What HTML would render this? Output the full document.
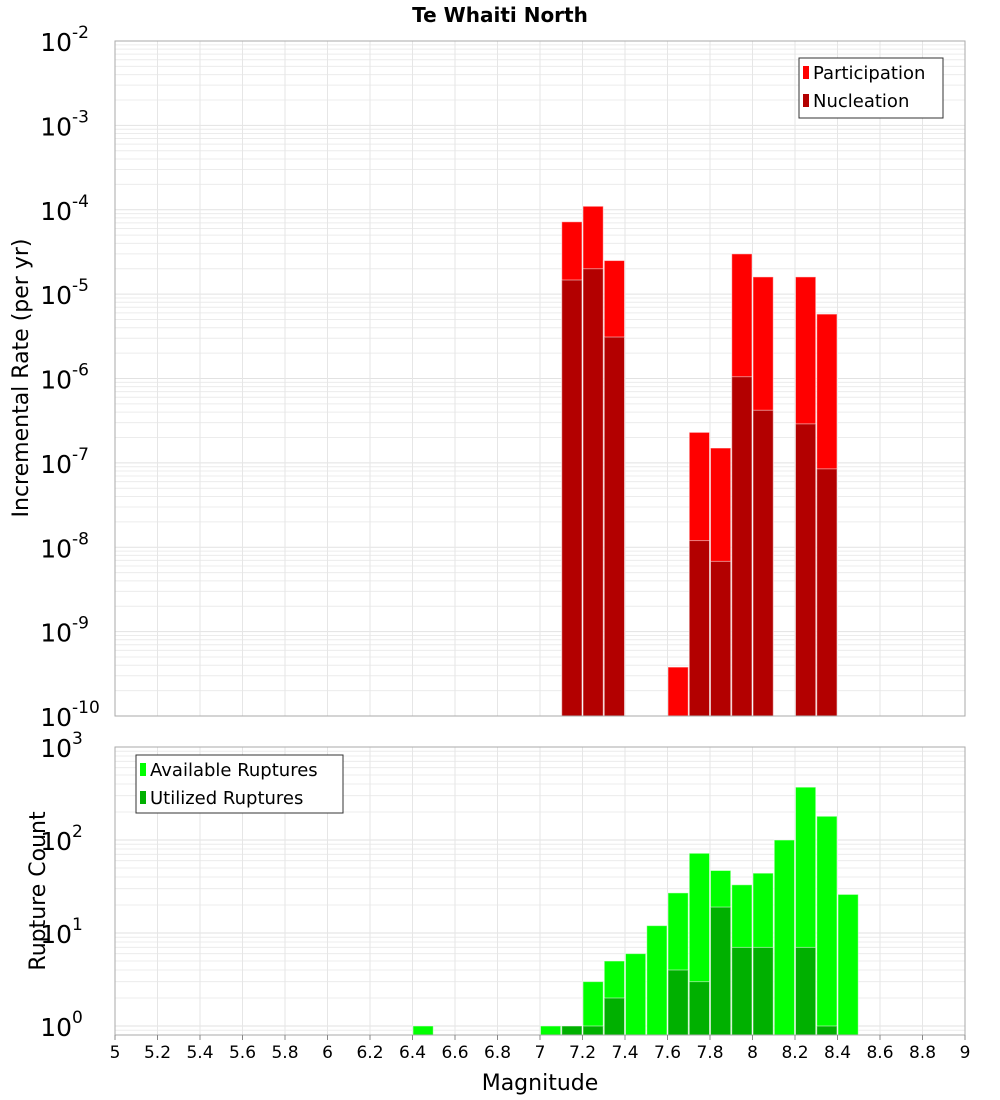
<!DOCTYPE html>
<html><head><meta charset="utf-8"><style>
body{margin:0;background:#fff;}
svg{display:block;font-family:"DejaVu Sans","Liberation Sans",sans-serif;}
</style></head><body>
<svg id="chart" width="1000" height="1100" viewBox="0 0 1000 1100">
<text x="500" y="22" text-anchor="middle" font-size="20" font-weight="bold">Te Whaiti North</text>
<g id="topPlot"></g>
<g id="botPlot"></g>
<text x="28" y="378" text-anchor="middle" font-size="22" transform="rotate(-90 28 378)">Incremental Rate (per yr)</text>
<text x="45" y="891" text-anchor="middle" font-size="22" transform="rotate(-90 45 891)">Rupture Count</text>
<text x="540" y="1090" text-anchor="middle" font-size="22">Magnitude</text>
<g>
<rect x="799" y="58" width="144" height="60" fill="#fff" stroke="#333"/>
<rect x="803" y="66" width="6" height="13" fill="#ff0000"/>
<text x="813" y="79" font-size="18">Participation</text>
<rect x="803" y="94" width="6" height="13" fill="#b30000"/>
<text x="813" y="107" font-size="18">Nucleation</text>
</g>
<g>
<rect x="136" y="755" width="207" height="58" fill="#fff" stroke="#333"/>
<rect x="140" y="763" width="6" height="13" fill="#00ff00"/>
<text x="150" y="776" font-size="18">Available Ruptures</text>
<rect x="140" y="791" width="6" height="13" fill="#00b000"/>
<text x="150" y="804" font-size="18">Utilized Ruptures</text>
</g>
</svg>
<script>
const binStarts=[6.4,7.0,7.1,7.2,7.3,7.4,7.5,7.6,7.7,7.8,7.9,8.0,8.1,8.2,8.3,8.4];
const available=[1,1,1,3,5,6,12,27,72,47,33,44,100,370,180,26];
const utilized=[0,0,1,1,2,0,0,4,3,19,7,7,0,7,1,0];
const rateBins=[7.1,7.2,7.3,7.6,7.7,7.8,7.9,8.0,8.2,8.3];
const participation=[7.2e-5,1.1e-4,2.5e-5,3.8e-10,2.3e-7,1.5e-7,3.0e-5,1.6e-5,1.6e-5,5.8e-6];
const nucleation=[1.47e-5,2.0e-5,3.1e-6,0,1.2e-8,6.8e-9,1.05e-6,4.2e-7,2.9e-7,8.5e-8];
const xTicks=[5,5.2,5.4,5.6,5.8,6,6.2,6.4,6.6,6.8,7,7.2,7.4,7.6,7.8,8,8.2,8.4,8.6,8.8,9];

const NS='http://www.w3.org/2000/svg';
const X0=115,X1=965;
const xs=m=>X0+(m-5)/4*(X1-X0);
function el(p,t,a){const e=document.createElementNS(NS,t);for(const k in a)e.setAttribute(k,a[k]);p.appendChild(e);return e;}
function panel(g,y0,y1,lmin,lmax,decPx){
  const ys=v=>y0+(lmax-Math.log10(v))*decPx;
  el(g,'rect',{x:X0,y:y0,width:X1-X0,height:y1-y0,fill:'#fff'});
  for(let d=Math.floor(lmin);d<lmax;d++)for(let k=1;k<10;k++){const y=ys(k*Math.pow(10,d));if(y<y0||y>y1)continue;
    el(g,'line',{x1:X0,x2:X1,y1:y,y2:y,stroke:k==1?'#e2e2e2':'#ececec','stroke-width':1});}
  xTicks.forEach(t=>{el(g,'line',{x1:xs(t),x2:xs(t),y1:y0,y2:y1,stroke:'#e6e6e6'});});
  for(let d=Math.ceil(lmin);d<=lmax;d++){const y=ys(Math.pow(10,d));
    const t=el(g,'text',{x:X0-43,y:y+10,'font-size':25,'text-anchor':'end'});t.textContent='10';
    
    
    const s=el(g,'text',{x:X0-43,y:y-3,'font-size':17});s.textContent=String(d);}
  return {ys};
}
const topG=document.getElementById('topPlot'),botG=document.getElementById('botPlot');
const A=panel(topG,41,716,-10,-2,84.375);
const B=panel(botG,747,1035,Math.log10(0.8),3,93);
const bw=(X1-X0)/40;
function bar(g,m,v,ys,base,color,name){
  if(!(v>0))return;const y=ys(v);
  const r=el(g,'rect',{x:xs(m)+0.5,y:y,width:bw-1,height:base-y,fill:color,stroke:'#fff','stroke-opacity':0.5,'stroke-width':1});
  
  
}
rateBins.forEach((m,i)=>{bar(topG,m,participation[i],A.ys,716,'#ff0000','participation-bar');});
rateBins.forEach((m,i)=>{bar(topG,m,nucleation[i],A.ys,716,'#b30000','nucleation-bar');});
binStarts.forEach((m,i)=>{bar(botG,m,available[i],B.ys,1035,'#00ff00','available-bar');});
binStarts.forEach((m,i)=>{bar(botG,m,utilized[i],B.ys,1035,'#00b000','utilized-bar');});
[topG,botG].forEach((g,j)=>{const t=j?747:41,b=j?1035:716;
  el(g,'rect',{x:X0,y:t,width:X1-X0,height:b-t,fill:'none',stroke:'#aaa'});});
xTicks.forEach(t=>{
  el(botG,'line',{x1:xs(t),x2:xs(t),y1:1035,y2:1040,stroke:'#888'});
  const tx=el(botG,'text',{x:xs(t),y:1058,'font-size':17,'text-anchor':'middle'});
  tx.textContent=String(t);
  
  
});
</script>
</body></html>
